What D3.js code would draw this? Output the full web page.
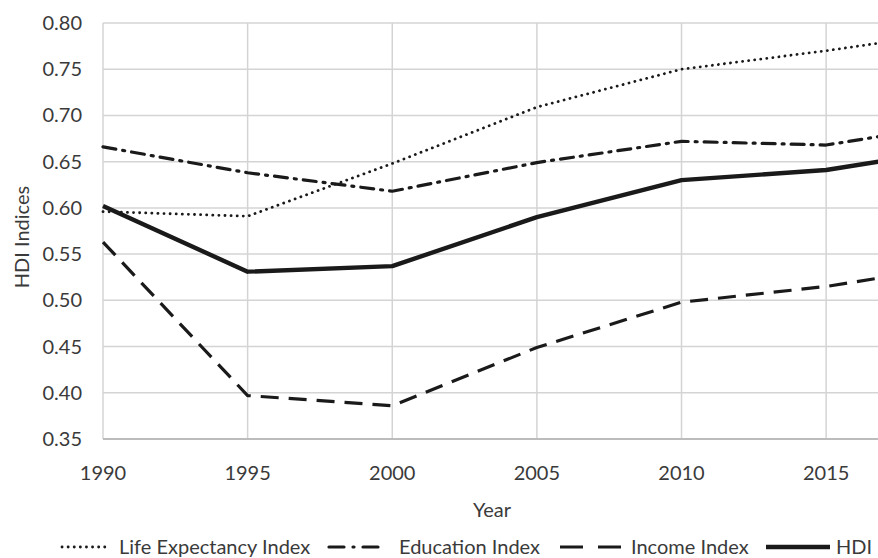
<!DOCTYPE html>
<html>
<head>
<meta charset="utf-8">
<script src="https://cdn.jsdelivr.net/npm/d3@7"></script>
<style>
  body { margin: 0; background: #fff; }
  text { font-family: Lato, "Open Sans", sans-serif; fill: #3a3a3a; }
</style>
</head>
<body>
<script>
// Chart data
var years = [1990, 1995, 2000, 2005, 2010, 2015, 2017];
var lifeExpectancy = [0.596, 0.591, 0.648, 0.709, 0.750, 0.770, 0.779];
var education = [0.666, 0.638, 0.618, 0.649, 0.672, 0.668, 0.678];
var income = [0.563, 0.397, 0.386, 0.449, 0.498, 0.515, 0.525];
var hdi = [0.602, 0.531, 0.537, 0.590, 0.630, 0.641, 0.651];
var yTicks = [0.35, 0.40, 0.45, 0.50, 0.55, 0.60, 0.65, 0.70, 0.75, 0.80];
var xTicks = [1990, 1995, 2000, 2005, 2010, 2015];
var seriesNames = ["Life Expectancy Index", "Education Index", "Income Index", "HDI"];

var width = 878, height = 558;
var margin = {top: 23, left: 103, bottom: 439};

var svg = d3.select("body").append("svg")
    .attr("width", width)
    .attr("height", height);

var x = d3.scaleLinear().domain([1990, 2017]).range([margin.left, 884]);
var y = d3.scaleLinear().domain([0.35, 0.80]).range([margin.bottom, margin.top]);

// horizontal grid
svg.append("g").selectAll("line")
    .data(yTicks.slice(1))
    .enter().append("line")
    .attr("x1", margin.left).attr("x2", width)
    .attr("y1", d => y(d)).attr("y2", d => y(d))
    .attr("stroke", "#d4d4d4").attr("stroke-width", 1.5);

// vertical grid
svg.append("g").selectAll("line")
    .data(xTicks)
    .enter().append("line")
    .attr("x1", d => x(d)).attr("x2", d => x(d))
    .attr("y1", y(0.80)).attr("y2", y(0.35))
    .attr("stroke", "#d4d4d4").attr("stroke-width", 1.5);

// bottom axis line
svg.append("line")
    .attr("x1", margin.left).attr("x2", width)
    .attr("y1", y(0.35)).attr("y2", y(0.35))
    .attr("stroke", "#bcbcbc").attr("stroke-width", 2);

// y tick labels
svg.append("g").selectAll("text")
    .data(yTicks)
    .enter().append("text")
    .attr("x", 82)
    .attr("y", d => y(d))
    .attr("dy", "0.35em")
    .attr("text-anchor", "end")
    .style("font-size", "20px")
    .text(d => d3.format(".2f")(d));

// x tick labels
svg.append("g").selectAll("text")
    .data(xTicks)
    .enter().append("text")
    .attr("x", d => x(d))
    .attr("y", 473)
    .attr("dy", "0.35em")
    .attr("text-anchor", "middle")
    .style("font-size", "20px")
    .text(d => d);

// axis titles
svg.append("text")
    .attr("x", 492).attr("y", 510)
    .attr("dy", "0.35em")
    .attr("text-anchor", "middle")
    .style("font-size", "20px")
    .text("Year");

svg.append("text")
    .attr("transform", "translate(22,237) rotate(-90)")
    .attr("dy", "0.35em")
    .attr("text-anchor", "middle")
    .style("font-size", "20px")
    .text("HDI Indices");

// line styles
var styles = [
    {values: lifeExpectancy, dash: "0.1 6", width: 2.8, cap: "round"},
    {values: education, dash: "13 7 2 7", width: 3.2, cap: "round"},
    {values: income, dash: "18 10", width: 3.2, cap: "butt"},
    {values: hdi, dash: null, width: 4.4, cap: "butt"}
];

var line = d3.line()
    .x(d => x(d[0]))
    .y(d => y(d[1]));

styles.forEach(function (s) {
    svg.append("path")
        .datum(years.map((yr, i) => [yr, s.values[i]]))
        .attr("d", line)
        .attr("fill", "none")
        .attr("stroke", "#1a1a1a")
        .attr("stroke-width", s.width)
        .attr("stroke-linecap", s.cap)
        .attr("stroke-linejoin", "round")
        .attr("stroke-dasharray", s.dash);
});

// legend
var legendY = 547;
var legendItems = [
    {x1: 62, x2: 108, tx: 119, dash: "0.1 6"},
    {x1: 329, x2: 380, tx: 399, dash: "15 9 1 9"},
    {x1: 560, x2: 623, tx: 631, dash: "23 15"},
    {x1: 766, x2: 830, tx: 836, dash: null}
];

legendItems.forEach(function (item, i) {
    svg.append("line")
        .attr("x1", item.x1).attr("x2", item.x2)
        .attr("y1", legendY).attr("y2", legendY)
        .attr("stroke", "#1a1a1a")
        .attr("stroke-width", styles[i].width)
        .attr("stroke-linecap", styles[i].cap)
        .attr("stroke-dasharray", item.dash);
    svg.append("text")
        .attr("x", item.tx).attr("y", legendY)
        .attr("dy", "0.35em")
        .style("font-size", "20px")
        .text(seriesNames[i]);
});
</script>
</body>
</html>
